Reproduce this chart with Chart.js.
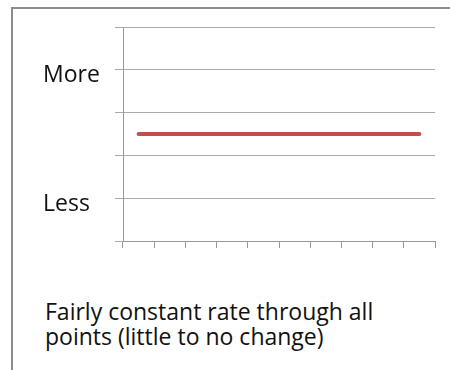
<!DOCTYPE html>
<html>
<head>
<meta charset="utf-8">
<script src="https://cdn.jsdelivr.net/npm/chart.js@4"></script>
<style>
  html, body { margin: 0; padding: 0; background: #fff; }
  body { width: 450px; height: 370px; position: relative; overflow: hidden; }
  #frame {
    position: absolute; left: 11px; top: 7px; width: 460px; height: 400px;
    border-left: 2px solid #8c8c8c; border-top: 2px solid #8c8c8c;
  }
  #wrap { position: absolute; left: 0; top: 0; width: 450px; height: 260px; }
  #caption {
    position: absolute; left: 45px; top: 299px; width: 405px; white-space: nowrap;
    font-family: "Open Sans", Lato, sans-serif; font-size: 23px; line-height: 25px; color: #111;
  }
</style>
</head>
<body>
<div id="frame"></div>
<div id="wrap"><canvas id="chart" width="450" height="260"></canvas></div>
<div id="caption">Fairly constant rate through all<br>points (little to no change)</div>
<script>
// categories along x (no visible labels)
const points = ['1', '2', '3', '4', '5', '6', '7', '8', '9', '10'];
// rate stays level
const rate = [2.5, 2.5, 2.5, 2.5, 2.5, 2.5, 2.5, 2.5, 2.5, 2.5];
// y tick labels
const tickLabels = { 4: 'More', 1: 'Less' };

document.addEventListener('DOMContentLoaded', () => {
  const ctx = document.getElementById('chart').getContext('2d');
  new Chart(ctx, {
    type: 'line',
    data: {
      labels: points,
      datasets: [{
        data: rate,
        borderColor: '#C0504D',
        borderWidth: 4,
        borderCapStyle: 'round',
        pointRadius: 0,
        tension: 0
      }]
    },
    options: {
      responsive: false,
      animation: false,
      layout: { padding: { left: 43, top: 27, right: 15, bottom: 12 } },
      plugins: { legend: { display: false }, tooltip: { enabled: false } },
      scales: {
        x: {
          offset: true,
          grid: { offset: true, drawOnChartArea: false, tickLength: 7, color: '#999' },
          border: { color: '#999' },
          ticks: { display: false }
        },
        y: {
          min: 0,
          max: 5,
          afterFit: scale => { scale.width = 80; },
          grid: { tickLength: 8, color: '#aaa' },
          border: { color: '#999' },
          ticks: {
            stepSize: 1,
            crossAlign: 'far',
            labelOffset: 6,
            color: '#111',
            font: { family: '"Open Sans", Lato, sans-serif', size: 23 },
            callback: v => tickLabels[v] || ''
          }
        }
      }
    }
  });
});
</script>
</body>
</html>
